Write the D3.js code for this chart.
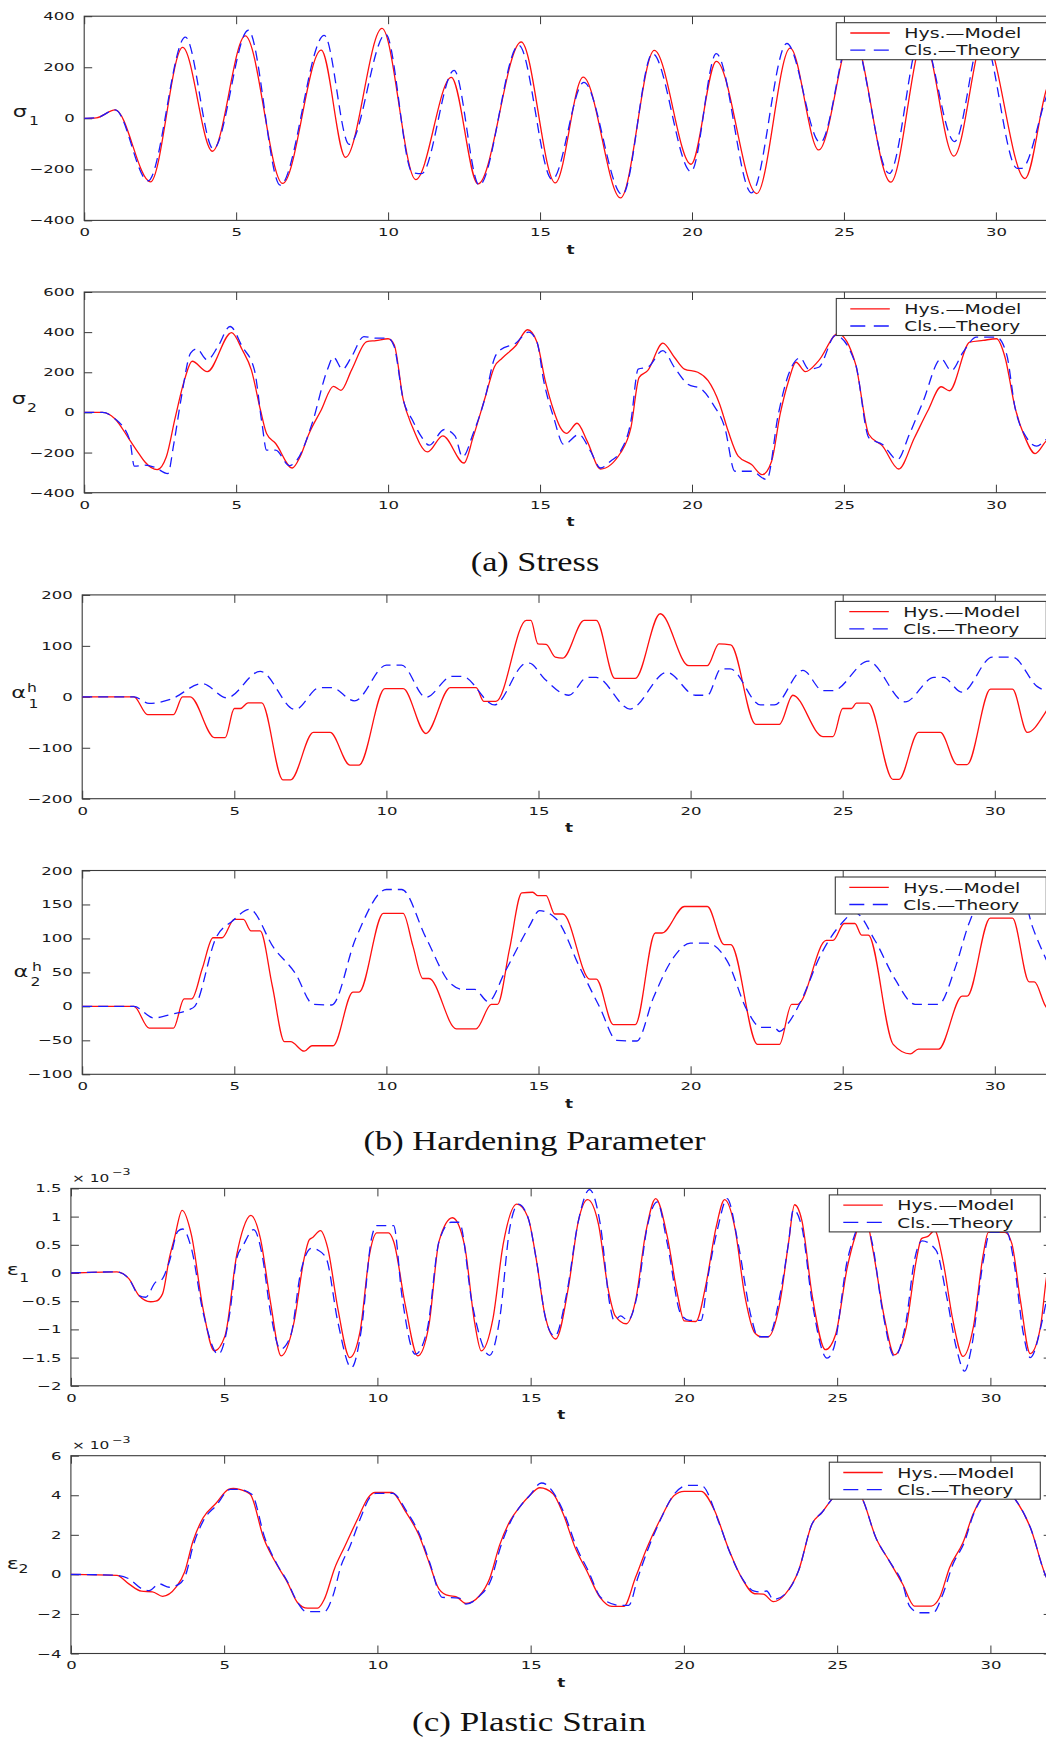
<!DOCTYPE html>
<html><head><meta charset="utf-8">
<script src="https://cdn.jsdelivr.net/npm/d3@7"></script>
<style>body{margin:0;background:#fff}svg{display:block}</style>
</head><body>
<svg id="c" width="1046" height="1737"></svg>
<script>
// ---------------- DATA ----------------
const seriesNames = ["Hys.\u2014Model", "Cls.\u2014Theory"];
const captions = ["(a) Stress", "(b) Hardening Parameter", "(c) Plastic Strain"];
const xTickValues = [0, 5, 10, 15, 20, 25, 30];
const yTicksSigma1 = [-400, -200, 0, 200, 400];
const yTicksSigma2 = [-400, -200, 0, 200, 400, 600];
const yTicksAlpha1 = [-200, -100, 0, 100, 200];
const yTicksAlpha2 = [-100, -50, 0, 50, 100, 150, 200];
const yTicksEps1 = [-2, -1.5, -1, -0.5, 0, 0.5, 1, 1.5];
const yTicksEps2 = [-4, -2, 0, 2, 4, 6];

// sigma_1 : [t, value]
const sigma1Hys = [[0,0],[0.4,2],[1.02,33],[2.18,-249],[3.24,278],[4.22,-129],[5.3,323],[6.53,-255],[7.8,267],[8.6,-153],[9.8,352],[10.91,-240],[12.08,160],[12.96,-257],[14.38,299],[15.5,-253],[16.42,161],[17.65,-312],[18.76,266],[19.97,-180],[20.8,223],[22.13,-295],[23.23,275],[24.17,-124],[25.27,330],[26.54,-250],[27.62,310],[28.62,-148],[29.62,320],[30.96,-236],[31.65,108],[32,220]];
const sigma1Cls = [[0,0],[0.4,2],[1.02,33],[2.1,-245],[3.33,318],[4.25,-120],[5.4,345],[6.45,-262],[7.9,325],[8.72,-102],[9.92,330],[10.8,-213],[11.1,-217],[12.17,188],[13.0,-262],[14.3,286],[15.4,-240],[16.44,141],[17.71,-299],[18.7,253],[19.97,-209],[20.8,253],[21.96,-292],[23.12,293],[24.22,-95],[25.25,335],[26.49,-216],[27.55,330],[28.64,-91],[29.55,330],[30.7,-196],[30.85,-196],[31.65,82],[32,200]];

// sigma_2
const sigma2Hys = [[0,0],[0.6,0],[1.0,-30],[1.5,-138],[1.8,-205],[2.0,-247],[2.4,-285],[2.7,-222],[3.0,-22],[3.3,162],[3.55,255],[4.05,203],[4.85,398],[5.2,312],[5.5,212],[5.8,12],[6.0,-105],[6.3,-155],[6.85,-277],[7.1,-222],[7.4,-105],[7.8,12],[8.2,130],[8.45,110],[8.8,212],[9.3,353],[9.6,358],[10.0,367],[10.2,337],[10.5,62],[10.8,-72],[11.3,-197],[11.8,-117],[12.5,-252],[12.8,-122],[13.2,78],[13.5,228],[13.75,270],[14.2,332],[14.59,412],[14.9,350],[15.17,158],[15.45,8],[15.67,-76],[15.87,-104],[16.22,-54],[16.55,-143],[16.99,-282],[17.65,-201],[17.99,-76],[18.26,175],[18.54,208],[19.04,345],[19.42,275],[19.75,216],[20.19,200],[20.53,158],[20.91,41],[21.19,-93],[21.52,-218],[21.96,-260],[22.31,-310],[22.62,-243],[22.9,-9],[23.18,158],[23.42,250],[23.73,203],[24.17,258],[24.8,392],[25.38,242],[25.82,-110],[26.27,-168],[26.8,-282],[27.32,-126],[27.76,8],[28.2,128],[28.47,108],[29.14,350],[29.58,359],[30.02,367],[30.3,275],[30.63,24],[30.96,-126],[31.29,-205],[31.65,-143],[32,-100]];
const sigma2Cls = [[0,0],[0.6,0],[1.0,-30],[1.5,-138],[1.65,-268],[2.0,-263],[2.3,-272],[2.75,-305],[2.95,-155],[3.2,78],[3.5,295],[3.7,317],[4.05,262],[4.4,328],[4.8,428],[5.2,328],[5.6,212],[5.85,-55],[6.0,-188],[6.3,-188],[6.75,-265],[7.0,-238],[7.5,-55],[8.0,212],[8.2,275],[8.5,215],[8.8,278],[9.2,378],[9.6,370],[10.0,370],[10.2,328],[10.5,62],[10.8,-38],[11.1,-122],[11.35,-163],[11.85,-85],[12.2,-117],[12.45,-222],[12.8,-105],[13.2,78],[13.5,270],[13.7,312],[14.2,345],[14.62,400],[14.9,350],[15.12,158],[15.45,-26],[15.78,-160],[16.28,-110],[16.66,-193],[16.99,-277],[17.32,-243],[17.65,-193],[17.99,-43],[18.23,216],[18.54,225],[19.04,308],[19.42,225],[19.86,141],[20.31,116],[20.69,41],[21.08,-76],[21.41,-293],[21.96,-293],[22.46,-335],[22.84,-9],[23.18,191],[23.56,272],[23.84,216],[24.17,225],[24.72,384],[25.38,242],[25.82,-126],[26.27,-160],[26.76,-235],[27.15,-110],[27.59,49],[28.2,267],[28.53,208],[28.92,300],[29.36,375],[30.02,375],[30.35,292],[30.63,24],[31.01,-126],[31.34,-168],[31.65,-135],[32,-90]];

// alpha_1^h
const alpha1Hys = [[0,0],[1.7,0],[2.15,-35],[3.0,-35],[3.3,0],[3.55,0],[4.35,-80],[4.7,-80],[5.0,-23],[5.2,-23],[5.45,-12],[5.9,-12],[6.6,-163],[6.85,-163],[7.6,-70],[8.15,-70],[8.8,-134],[9.1,-134],[9.95,16],[10.55,16],[11.3,-72],[12.1,18],[12.95,18],[13.2,-9],[13.6,-9],[14.6,150],[14.75,150],[14.98,104],[15.25,103],[15.55,78],[15.8,76],[16.5,150],[16.9,150],[17.51,36],[18.18,36],[19.0,163],[19.94,61],[20.55,61],[20.93,104],[21.32,102],[22.14,-54],[22.92,-54],[23.36,3],[24.35,-78],[24.68,-78],[25.0,-23],[25.29,-23],[25.45,-12.5],[25.84,-12.5],[26.65,-162],[26.85,-162],[27.49,-70],[28.21,-70],[28.76,-133],[29.09,-133],[29.86,15],[30.58,15],[31.07,-70],[31.66,-31],[32,5]];
const alpha1Cls = [[0,0],[1.7,0],[2.2,-13],[2.9,-5],[3.95,26],[4.75,-2],[5.85,50],[7.0,-25],[7.8,18],[8.2,18],[8.95,-8],[10.0,62],[10.5,62],[11.3,-1],[12.15,40],[12.5,40],[13.55,-16],[14.6,66],[14.7,66],[15.2,35],[16.0,3],[16.6,38],[16.9,38],[18.01,-24],[19.22,48],[20.16,3],[20.55,3],[21.0,55],[21.3,55],[22.3,-16],[22.75,-16],[23.69,52],[24.35,12],[24.68,12],[25.84,70],[27.05,-10],[28.0,38],[28.3,38],[28.92,9],[29.92,78],[30.58,78],[31.4,20],[31.66,12],[32,5]];

// alpha_2^h
const alpha2Hys = [[0,0],[1.7,0],[2.2,-32],[3.0,-32],[3.35,11],[3.6,11],[3.95,56],[4.3,101],[4.6,101],[5.0,128],[5.3,128],[5.55,111],[5.85,111],[6.25,30],[6.65,-52],[6.85,-52],[7.3,-66],[7.55,-58],[8.25,-58],[8.9,21],[9.1,21],[9.9,137],[10.55,137],[10.87,89],[11.2,41],[11.4,41],[12.3,-33],[12.95,-33],[13.45,3],[13.65,3],[14.05,85],[14.45,167],[14.81,168],[14.98,163],[15.25,163],[15.53,136],[15.8,136],[16.69,40],[16.9,40],[17.46,-27],[18.18,-27],[18.84,108],[19.06,108],[19.8,147],[20.55,147],[21.1,91],[21.32,91],[22.2,-56],[22.92,-56],[23.32,3],[23.52,3],[24.46,97],[24.68,97],[25.05,122],[25.4,122],[25.62,105],[25.84,105],[26.66,-56],[27.22,-70],[27.49,-63],[28.15,-63],[28.93,15],[29.09,15],[29.85,130],[30.58,130],[31.13,36],[31.3,36],[31.66,1],[32,-15]];
const alpha2Cls = [[0,0],[1.7,0],[2.35,-17],[3.0,-11],[3.5,-5],[3.7,0],[4.4,101],[4.95,126],[5.5,143],[6.3,86],[7.0,49],[7.6,3],[8.2,2],[9.0,101],[10.0,172],[10.5,172],[11.3,101],[12.1,34],[12.5,25],[12.9,25],[13.35,7],[13.9,51],[14.7,118],[15.03,141],[15.58,129],[16.36,57],[17.02,-2],[17.57,-50],[18.23,-51],[18.78,13],[19.44,72],[19.99,93],[20.55,93],[21.2,67],[21.87,-7],[22.31,-31],[22.75,-31],[22.92,-37],[23.19,-26],[23.63,8],[24.29,77],[24.96,122],[25.4,138],[26.06,97],[26.72,40],[27.38,3],[28.15,3],[28.7,57],[29.15,122],[29.8,172],[30.85,172],[31.24,117],[31.66,72],[32,40]];

// epsilon_1 (x 10^-3)
const eps1Hys = [[0,0],[1.5,0.02],[1.89,-0.1],[2.22,-0.4],[2.6,-0.51],[2.77,-0.5],[2.99,-0.37],[3.21,0.26],[3.38,0.62],[3.63,1.11],[3.93,0.68],[4.31,-0.63],[4.68,-1.38],[5.03,-1.11],[5.41,0.32],[5.63,0.8],[5.87,1.02],[6.18,0.62],[6.51,-0.51],[6.86,-1.47],[7.28,-0.87],[7.61,0.26],[7.78,0.59],[7.89,0.63],[8.14,0.75],[8.38,0.44],[8.71,-0.63],[9.1,-1.5],[9.43,-1.05],[9.76,0.38],[9.98,0.71],[10.36,0.71],[10.53,0.56],[10.91,-0.57],[11.32,-1.47],[11.68,-0.93],[12.01,0.56],[12.45,0.98],[12.84,0.5],[13.17,-0.87],[13.39,-1.38],[13.77,-0.81],[14.1,0.5],[14.55,1.22],[14.91,0.99],[15.19,0.22],[15.46,-0.73],[15.82,-1.17],[16.23,-0.26],[16.56,0.93],[16.86,1.3],[17.21,0.87],[17.54,-0.32],[17.76,-0.76],[18.12,-0.9],[18.42,-0.5],[18.75,0.7],[19.08,1.32],[19.46,0.64],[19.79,-0.38],[20.01,-0.85],[20.39,-0.86],[20.72,-0.2],[21.05,0.81],[21.33,1.3],[21.66,0.81],[21.98,-0.38],[22.31,-1.06],[22.53,-1.13],[22.75,-1.13],[23.14,-0.5],[23.41,0.52],[23.61,1.21],[23.85,0.93],[24.18,-0.38],[24.62,-1.36],[24.95,-1.09],[25.33,0.1],[25.6,0.67],[25.9,1.05],[26.15,0.46],[26.54,-0.79],[26.87,-1.45],[27.25,-0.97],[27.58,0.22],[27.75,0.61],[27.96,0.65],[28.18,0.75],[28.45,0.22],[28.78,-0.85],[29.11,-1.48],[29.44,-0.97],[29.77,0.34],[29.93,0.72],[30.48,0.72],[30.7,0.52],[30.98,-0.49],[31.3,-1.43],[31.63,-0.97],[31.83,-0.08],[32,0.35]];
const eps1Cls = [[0,0],[1.5,0.02],[1.89,-0.1],[2.22,-0.4],[2.44,-0.43],[2.77,-0.16],[2.94,-0.13],[3.21,0.2],[3.49,0.74],[3.65,0.78],[3.93,0.44],[4.31,-0.69],[4.81,-1.44],[5.19,-0.69],[5.41,0.26],[5.63,0.5],[5.96,0.77],[6.24,0.32],[6.51,-0.69],[6.84,-1.35],[7.17,-1.11],[7.5,0.02],[7.85,0.44],[8.05,0.41],[8.33,0.26],[8.71,-0.87],[9.15,-1.68],[9.48,-0.99],[9.81,0.62],[9.98,0.84],[10.53,0.84],[10.8,-0.4],[11.24,-1.44],[11.63,-0.99],[12.01,0.56],[12.4,0.9],[12.67,0.9],[13.1,-0.57],[13.66,-1.46],[13.99,-0.81],[14.32,0.8],[14.6,1.22],[14.91,0.99],[15.19,0.22],[15.52,-0.88],[15.79,-1.12],[16.17,-0.38],[16.56,0.93],[16.92,1.48],[17.27,0.87],[17.6,-0.61],[17.73,-0.85],[17.93,-0.76],[18.17,-0.84],[18.48,-0.38],[18.8,0.81],[19.13,1.26],[19.46,0.52],[19.9,-0.73],[20.18,-0.84],[20.56,-0.84],[20.78,-0.08],[21.11,0.81],[21.41,1.32],[21.77,0.52],[22.2,-0.79],[22.42,-1.13],[22.75,-1.13],[23.14,-0.38],[23.41,0.52],[23.57,1.12],[23.85,0.81],[24.18,-0.5],[24.67,-1.51],[24.89,-1.33],[25.33,0.22],[25.55,0.64],[25.85,1.0],[26.15,0.52],[26.48,-0.67],[26.87,-1.48],[27.25,-0.85],[27.52,0.22],[27.77,0.57],[28.23,0.4],[28.56,-0.38],[28.89,-1.33],[29.16,-1.74],[29.38,-1.33],[29.77,0.22],[29.99,0.72],[30.54,0.72],[30.76,0.22],[31.08,-1.09],[31.3,-1.5],[31.69,-0.85],[31.83,-0.49],[32,-0.1]];

// epsilon_2 (x 10^-3)
const eps2Hys = [[0,0],[1.5,-0.05],[1.89,-0.48],[2.3,-0.85],[2.66,-0.88],[2.99,-1.11],[3.43,-0.65],[3.71,0.12],[3.98,1.66],[4.31,2.85],[4.75,3.62],[5.14,4.3],[5.3,4.35],[5.5,4.3],[5.85,4.05],[6.29,1.83],[6.73,0.46],[7.06,-0.39],[7.39,-1.42],[7.72,-1.71],[8.05,-1.71],[8.27,-1.25],[8.6,0.29],[8.93,1.4],[9.37,2.85],[9.7,3.88],[9.92,4.14],[10.47,4.14],[10.91,3.2],[11.35,2.0],[11.68,0.63],[12.01,-0.74],[12.34,-1.08],[12.56,-1.12],[12.89,-1.47],[13.33,-1.08],[13.66,-0.22],[13.99,1.49],[14.32,2.68],[14.64,3.4],[14.97,3.99],[15.3,4.38],[15.73,4.08],[16.06,3.06],[16.45,1.36],[16.83,0.18],[17.27,-1.18],[17.65,-1.62],[18.04,-1.62],[18.42,-0.16],[18.8,1.36],[19.24,2.81],[19.68,3.99],[20.01,4.2],[20.56,4.2],[21.0,3.23],[21.44,1.36],[21.88,-0.16],[22.31,-0.98],[22.59,-1.0],[22.92,-1.38],[23.3,-1.01],[23.74,0.18],[24.18,2.55],[24.51,3.14],[24.84,3.82],[25.2,4.3],[25.6,4.3],[25.82,3.82],[26.26,1.87],[26.7,0.68],[27.14,-0.5],[27.52,-1.6],[28.07,-1.6],[28.34,-1.18],[28.67,0.35],[29.11,1.62],[29.44,3.06],[29.77,3.99],[30.0,4.2],[30.6,4.2],[30.76,3.9],[31.3,2.38],[31.83,-0.16],[32,-0.6]];
const eps2Cls = [[0,0],[1.5,-0.05],[1.89,-0.22],[2.33,-0.74],[2.55,-0.82],[2.88,-0.48],[3.21,-0.65],[3.54,-0.48],[3.75,0.0],[3.98,1.4],[4.31,2.68],[4.75,3.5],[5.2,4.3],[5.45,4.3],[5.9,4.05],[6.33,1.83],[6.73,0.5],[7.06,-0.35],[7.39,-1.4],[7.67,-1.88],[8.27,-1.88],[8.55,-1.08],[8.82,0.46],[9.1,1.4],[9.45,2.85],[9.75,3.88],[9.95,4.1],[10.5,4.1],[10.95,3.2],[11.38,2.0],[11.7,0.63],[12.12,-1.16],[12.67,-1.2],[12.89,-1.5],[13.33,-1.1],[13.7,-0.3],[14.02,1.4],[14.35,2.68],[14.64,3.4],[14.97,3.99],[15.35,4.62],[15.5,4.55],[15.73,4.16],[16.1,3.06],[16.5,1.36],[16.88,0.18],[17.3,-1.18],[17.93,-1.57],[18.2,-1.57],[18.5,-0.16],[18.85,1.36],[19.25,2.81],[19.65,3.99],[20.12,4.5],[20.56,4.5],[21.16,2.55],[21.5,1.1],[21.9,-0.2],[22.3,-0.85],[22.53,-0.89],[22.7,-0.84],[22.92,-1.27],[23.3,-1.0],[23.74,0.18],[24.18,2.55],[24.51,3.14],[24.84,3.82],[25.2,4.3],[25.6,4.3],[25.82,3.82],[26.26,1.87],[26.7,0.68],[27.14,-0.5],[27.36,-1.6],[27.69,-1.94],[28.13,-1.94],[28.45,-1.0],[28.78,0.52],[29.15,1.62],[29.44,3.0],[29.77,3.95],[30.0,4.2],[30.6,4.2],[30.76,3.9],[31.3,2.38],[31.83,-0.16],[32,-0.6]];

// ---------------- LAYOUT ----------------
const panels = [
  {hys: sigma1Hys, cls: sigma1Cls, yDomain: [-400, 400], yTicks: yTicksSigma1,
   left: 84.2, top: 16.2, bottom: 220.4, unit: 30.39, legX: 836.3,
   lab: {main: "\u03c3", x: 12.8, y: 116.6, sub: "1", subX: 29, subY: 125}},
  {hys: sigma2Hys, cls: sigma2Cls, yDomain: [-400, 600], yTicks: yTicksSigma2,
   left: 84.2, top: 292, bottom: 492.7, unit: 30.39, legX: 836.3,
   lab: {main: "\u03c3", x: 11.8, y: 403.5, sub: "2", subX: 27, subY: 412}},
  {hys: alpha1Hys, cls: alpha1Cls, yDomain: [-200, 200], yTicks: yTicksAlpha1,
   left: 82.2, top: 594.9, bottom: 798.7, unit: 30.42, legX: 835.3,
   lab: {main: "\u03b1", x: 11.2, y: 698.3, sub: "1", subX: 28.5, subY: 707.8, sup: "h", supX: 27, supY: 691.6}},
  {hys: alpha2Hys, cls: alpha2Cls, yDomain: [-100, 200], yTicks: yTicksAlpha2,
   left: 82.2, top: 870.5, bottom: 1074.3, unit: 30.42, legX: 835.3,
   lab: {main: "\u03b1", x: 13.5, y: 976.6, sub: "2", subX: 30.4, subY: 985.8, sup: "h", supX: 32, supY: 970.9}},
  {hys: eps1Hys, cls: eps1Cls, yDomain: [-2, 1.5], yTicks: yTicksEps1,
   left: 70.9, top: 1188.4, bottom: 1385.8, unit: 30.65, legX: 829.3, exp: true,
   lab: {main: "\u03b5", x: 6.8, y: 1275, sub: "1", subX: 19.3, subY: 1281.7}},
  {hys: eps2Hys, cls: eps2Cls, yDomain: [-4, 6], yTicks: yTicksEps2,
   left: 70.9, top: 1455.7, bottom: 1653.5, unit: 30.65, legX: 829.3, exp: true,
   lab: {main: "\u03b5", x: 6.8, y: 1568.6, sub: "2", subX: 18.6, subY: 1572.7}}
];
const captionPos = [{x: 535, y: 571, w: 128.5}, {x: 534.6, y: 1150, w: 342}, {x: 529, y: 1731, w: 234}];

const RED = "#ff1010", BLUE = "#1a1aff", AX = "#3a3a3a";
const SANS = "'DejaVu Sans', sans-serif";
const TX = 1.5; // horizontal stretch of the original figure's text

const svg = d3.select("#c");
const fmt = d => (d < 0 ? "\u2212" : "") + Math.abs(d);

function stretch(sel, sx) {
  sel.each(function () {
    const t = d3.select(this);
    const x = +t.attr("x") || 0, y = +t.attr("y") || 0;
    t.attr("x", null).attr("y", null)
     .attr("transform", `translate(${x},${y}) scale(${sx},1)`);
  });
}

panels.forEach((p, i) => {
  const right = p.left + 32 * p.unit;
  const x = d3.scaleLinear().domain([0, 32]).range([p.left, right]);
  const y = d3.scaleLinear().domain(p.yDomain).range([p.bottom, p.top]);
  const g = svg.append("g");

  const clipId = "clip" + i;
  svg.append("clipPath").attr("id", clipId).append("rect")
    .attr("x", p.left).attr("y", p.top).attr("width", right - p.left).attr("height", p.bottom - p.top);

  // axes (inward ticks on all four sides)
  const axL = g.append("g").attr("transform", `translate(${p.left},0)`)
    .call(d3.axisLeft(y).tickValues(p.yTicks).tickSizeInner(-8).tickSizeOuter(0).tickPadding(9.5).tickFormat(fmt));
  const axR = g.append("g").attr("transform", `translate(${right},0)`)
    .call(d3.axisRight(y).tickValues(p.yTicks).tickSizeInner(-8).tickSizeOuter(0).tickFormat(""));
  const axB = g.append("g").attr("transform", `translate(0,${p.bottom})`)
    .call(d3.axisBottom(x).tickValues(xTickValues).tickSizeInner(-8).tickSizeOuter(0).tickPadding(8).tickFormat(fmt));
  const axT = g.append("g").attr("transform", `translate(0,${p.top})`)
    .call(d3.axisTop(x).tickValues(xTickValues).tickSizeInner(-8).tickSizeOuter(0).tickFormat(""));
  [axL, axR, axB, axT].forEach(a => {
    a.select(".domain").remove();
    a.selectAll("line").attr("stroke", AX).attr("stroke-width", 1);
    a.selectAll("text").attr("fill", "#1a1a1a").style("font-family", SANS).style("font-size", "11px");
  });
  stretch(axL.selectAll("text"), TX);
  stretch(axB.selectAll("text"), TX);

  g.append("rect").attr("x", p.left).attr("y", p.top)
    .attr("width", right - p.left).attr("height", p.bottom - p.top)
    .attr("fill", "none").attr("stroke", AX).attr("stroke-width", 1.1);

  // series
  const line = d3.line().x(d => x(d[0])).y(d => y(d[1])).curve(d3.curveMonotoneX);
  const plot = g.append("g").attr("clip-path", `url(#${clipId})`);
  plot.append("path").datum(p.hys).attr("d", line)
    .attr("fill", "none").attr("stroke", RED).attr("stroke-width", 1.3);
  plot.append("path").datum(p.cls).attr("d", line)
    .attr("fill", "none").attr("stroke", BLUE).attr("stroke-width", 1.3).attr("stroke-dasharray", "10,6");

  // x label
  const tl = g.append("text").attr("x", (p.left + right) / 2).attr("y", p.bottom + 33.5)
    .attr("text-anchor", "middle").style("font-family", SANS).style("font-size", "13px")
    .style("font-weight", "bold").attr("fill", "#1a1a1a").text("t");
  stretch(tl, 1.3);

  // y label
  const L = p.lab;
  const m = g.append("text").attr("x", L.x).attr("y", L.y).style("font-family", SANS)
    .style("font-size", "15.5px").attr("fill", "#1a1a1a").text(L.main);
  stretch(m, 1.45);
  const s = g.append("text").attr("x", L.subX).attr("y", L.subY).style("font-family", SANS)
    .style("font-size", "12px").attr("fill", "#1a1a1a").text(L.sub);
  stretch(s, 1.3);
  if (L.sup) {
    const h = g.append("text").attr("x", L.supX).attr("y", L.supY).style("font-family", SANS)
      .style("font-size", "12px").attr("fill", "#1a1a1a").text(L.sup);
    stretch(h, 1.3);
  }

  // exponent label
  if (p.exp) {
    const e1 = g.append("text").attr("x", p.left + 1).attr("y", p.top - 6.3)
      .style("font-family", SANS).style("font-size", "11px").attr("fill", "#1a1a1a").text("\u00d7 10");
    stretch(e1, 1.4);
    const e2 = g.append("text").attr("x", p.left + 41).attr("y", p.top - 13)
      .style("font-family", SANS).style("font-size", "9px").attr("fill", "#1a1a1a").text("\u22123");
    stretch(e2, 1.4);
  }

  // legend
  const lg = g.append("g").attr("transform", `translate(${p.legX},${p.top + 6.5})`);
  lg.append("rect").attr("width", 211).attr("height", 37)
    .attr("fill", "#fff").attr("stroke", AX).attr("stroke-width", 1.1);
  const rows = [{c: RED, dash: null, y: 10.3}, {c: BLUE, dash: "15,8.5", y: 27.5}];
  rows.forEach((r, k) => {
    lg.append("line").attr("x1", 14).attr("x2", 53.5).attr("y1", r.y).attr("y2", r.y)
      .attr("stroke", r.c).attr("stroke-width", 1.3).attr("stroke-dasharray", r.dash);
    lg.append("text").attr("x", 68).attr("y", r.y + 5.2)
      .style("font-family", SANS).style("font-size", "14px").attr("fill", "#1a1a1a")
      .attr("textLength", k === 0 ? 117 : 116).attr("lengthAdjust", "spacingAndGlyphs")
      .text(seriesNames[k]);
  });
});

// captions
captions.forEach((c, i) => {
  const cp = captionPos[i];
  svg.append("text").attr("x", cp.x).attr("y", cp.y).attr("text-anchor", "middle")
    .style("font-family", "'Liberation Serif', serif").style("font-size", "28px").attr("fill", "#111")
    .attr("textLength", cp.w).attr("lengthAdjust", "spacingAndGlyphs").text(c);
});
</script>
</body></html>
